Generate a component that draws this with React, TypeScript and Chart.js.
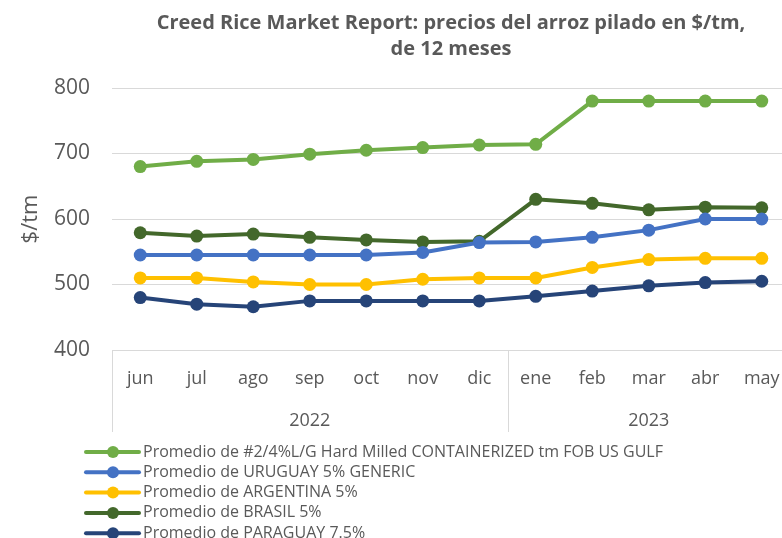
import React, { useEffect, useRef } from 'react';
import { Chart, registerables } from 'chart.js';

Chart.register(...registerables);

const months = ['jun', 'jul', 'ago', 'sep', 'oct', 'nov', 'dic', 'ene', 'feb', 'mar', 'abr', 'may'];
const yearLabels = ['2022', '2023'];
const yearStartIndex = [0, 7];

const usGulf = [680, 688, 691, 699, 705, 709, 713, 714, 780, 780, 780, 780];
const uruguay = [545, 545, 545, 545, 545, 549, 564, 565, 572, 583, 600, 600];
const argentina = [510, 510, 504, 500, 500, 508, 510, 510, 526, 538, 540, 540];
const brasil = [579, 574, 577, 572, 568, 565, 566, 630, 624, 614, 618, 617];
const paraguay = [480, 470, 466, 475, 475, 475, 475, 482, 490, 498, 503, 505];

const seriesNames = [
  'Promedio de #2/4%L/G Hard Milled CONTAINERIZED tm FOB US GULF',
  'Promedio de URUGUAY 5% GENERIC',
  'Promedio de ARGENTINA 5%',
  'Promedio de BRASIL 5%',
  'Promedio de PARAGUAY 7.5%',
];
const seriesData = [usGulf, uruguay, argentina, brasil, paraguay];
const seriesColors = ['#70AD47', '#4472C4', '#FFC000', '#43682B', '#264478'];

const titleLines = ['Creed Rice Market Report: precios del arroz pilado en $/tm,', 'de 12 meses'];
const FONT = '"Open Sans", sans-serif';
const TEXT = '#595959';

const extrasPlugin = {
  id: 'extras',
  afterDraw(chart: any) {
    const ctx = chart.ctx;
    const x = chart.scales.x;
    const area = chart.chartArea;
    ctx.save();
    // title
    ctx.fillStyle = TEXT;
    ctx.font = `bold 20px ${FONT}`;
    ctx.textAlign = 'center';
    ctx.textBaseline = 'middle';
    ctx.fillText(titleLines[0], 451, 23);
    ctx.fillText(titleLines[1], 451, 49);

    // year group row
    const bottom = area.bottom;
    const boxBottom = bottom + 82;
    const bounds: number[] = [];
    yearStartIndex.forEach((s) => {
      bounds.push(s === 0 ? area.left : (x.getPixelForValue(s) + x.getPixelForValue(s - 1)) / 2);
    });
    bounds.push(area.right);
    ctx.strokeStyle = '#d9d9d9';
    ctx.lineWidth = 1;
    bounds.forEach((b) => {
      ctx.beginPath();
      ctx.moveTo(Math.round(b) + 0.5, bottom);
      ctx.lineTo(Math.round(b) + 0.5, boxBottom);
      ctx.stroke();
    });
    ctx.font = `18px ${FONT}`;
    ctx.fillStyle = TEXT;
    yearLabels.forEach((lab, i) => {
      ctx.fillText(lab, (bounds[i] + bounds[i + 1]) / 2, bottom + 71);
    });

    // legend
    ctx.textAlign = 'left';
    ctx.font = `16px ${FONT}`;
    seriesNames.forEach((name, i) => {
      const y = 452 + i * 20.3;
      ctx.strokeStyle = seriesColors[i];
      ctx.lineWidth = 4;
      ctx.lineCap = 'round';
      ctx.beginPath();
      ctx.moveTo(86, y);
      ctx.lineTo(139, y);
      ctx.stroke();
      ctx.fillStyle = seriesColors[i];
      ctx.beginPath();
      ctx.arc(113, y, 6, 0, Math.PI * 2);
      ctx.fill();
      ctx.fillStyle = TEXT;
      ctx.fillText(name, 143, y);
    });
    ctx.restore();
  },
};

export default function App() {
  const ref = useRef<HTMLCanvasElement>(null);
  useEffect(() => {
    if (!ref.current) return;
    const chart = new Chart(ref.current, {
      type: 'line',
      data: {
        labels: months,
        datasets: seriesData.map((d, i) => ({
          label: seriesNames[i],
          data: d,
          borderColor: seriesColors[i],
          backgroundColor: seriesColors[i],
          borderWidth: 4,
          pointRadius: 6.5,
          pointHoverRadius: 6.5,
          pointBorderWidth: 0,
          tension: 0,
          clip: false,
        })),
      },
      options: {
        animation: false,
        responsive: false,
        layout: { padding: { top: 88, right: 10, bottom: 106, left: 0 } },
        plugins: {
          legend: { display: false },
          title: { display: false },
          tooltip: { enabled: false },
        },
        scales: {
          x: {
            offset: true,
            grid: { display: false, drawTicks: false },
            border: { display: false },
            ticks: { color: TEXT, font: { family: FONT, size: 18 }, padding: 18, maxRotation: 0 },
            afterFit: (s: any) => { s.height = 82; s.paddingLeft = 0; s.paddingRight = 0; },
          },
          y: {
            min: 400,
            max: 800,
            ticks: { stepSize: 100, color: TEXT, font: { family: FONT, size: 21 }, padding: 22 },
            grid: { color: '#d9d9d9', drawTicks: false },
            border: { display: false },
            title: { display: true, text: '$/tm', color: TEXT, font: { family: FONT, size: 22 }, padding: { top: 18, bottom: 0 } },
            afterFit: (s: any) => { s.width = 112; s.paddingTop = 0; s.paddingBottom = 0; },
          },
        },
      },
      plugins: [extrasPlugin],
    });
    return () => chart.destroy();
  }, []);
  return (
    <div style={{ position: 'fixed', left: 0, top: 0, width: 782, height: 538, background: '#fff', overflow: 'hidden' }}>
      <canvas ref={ref} width={800} height={538} style={{ display: 'block' }} />
    </div>
  );
}
